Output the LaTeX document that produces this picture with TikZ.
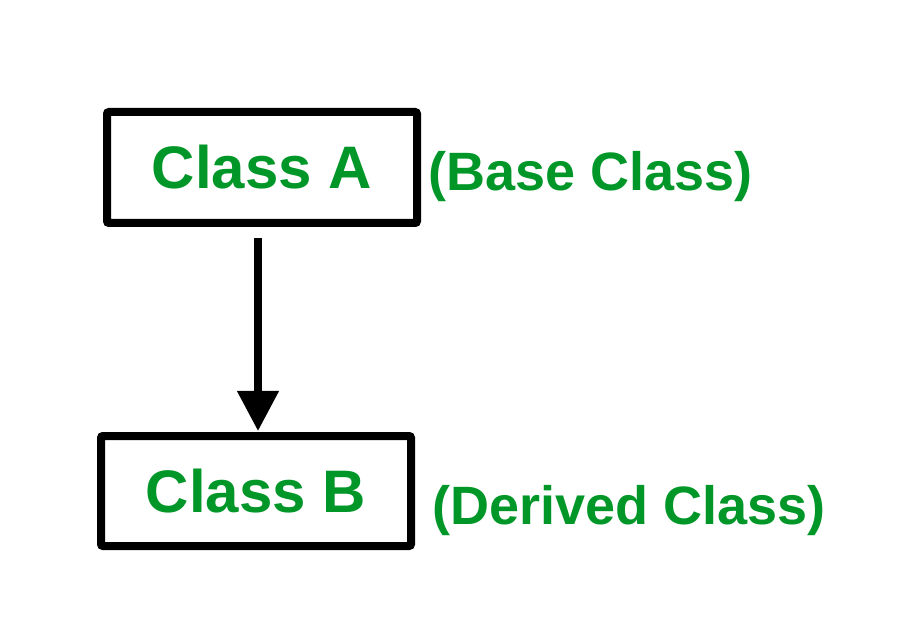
\documentclass[tikz,border=0pt]{standalone}
\usepackage{fontspec}
\setmainfont{Liberation Sans}
\usetikzlibrary{arrows.meta}
\definecolor{lblgreen}{RGB}{0,150,40}
\begin{document}
\begin{tikzpicture}[x=1pt,y=-1pt,
  classbox/.style={draw=black, line width=8pt, rounded corners=2pt, fill=white,
    text=lblgreen, font=\fontsize{60}{70}\selectfont\bfseries, inner sep=0pt},
  note/.style={text=lblgreen, font=\fontsize{54}{64}\selectfont\bfseries, inner sep=0pt, anchor=base west},
  inherit/.style={line width=7.5pt, -{Triangle[width=40pt,length=40pt]}}
]
\useasboundingbox (0,0) rectangle (900,636);
\node[classbox, minimum width=310pt, minimum height=111pt] (A) at (262,167.5) {Class A};
\node[classbox, minimum width=310pt, minimum height=110pt] (B) at (256,491) {Class B};
\node[note] (na) at (428,191) {(Base Class)};
\node[note] (nb) at (432,524) {(Derived Class)};
\coordinate (s) at (258,238);
\draw[inherit, shorten >=1pt] (s) -- (s |- B.north);
\end{tikzpicture}
\end{document}
